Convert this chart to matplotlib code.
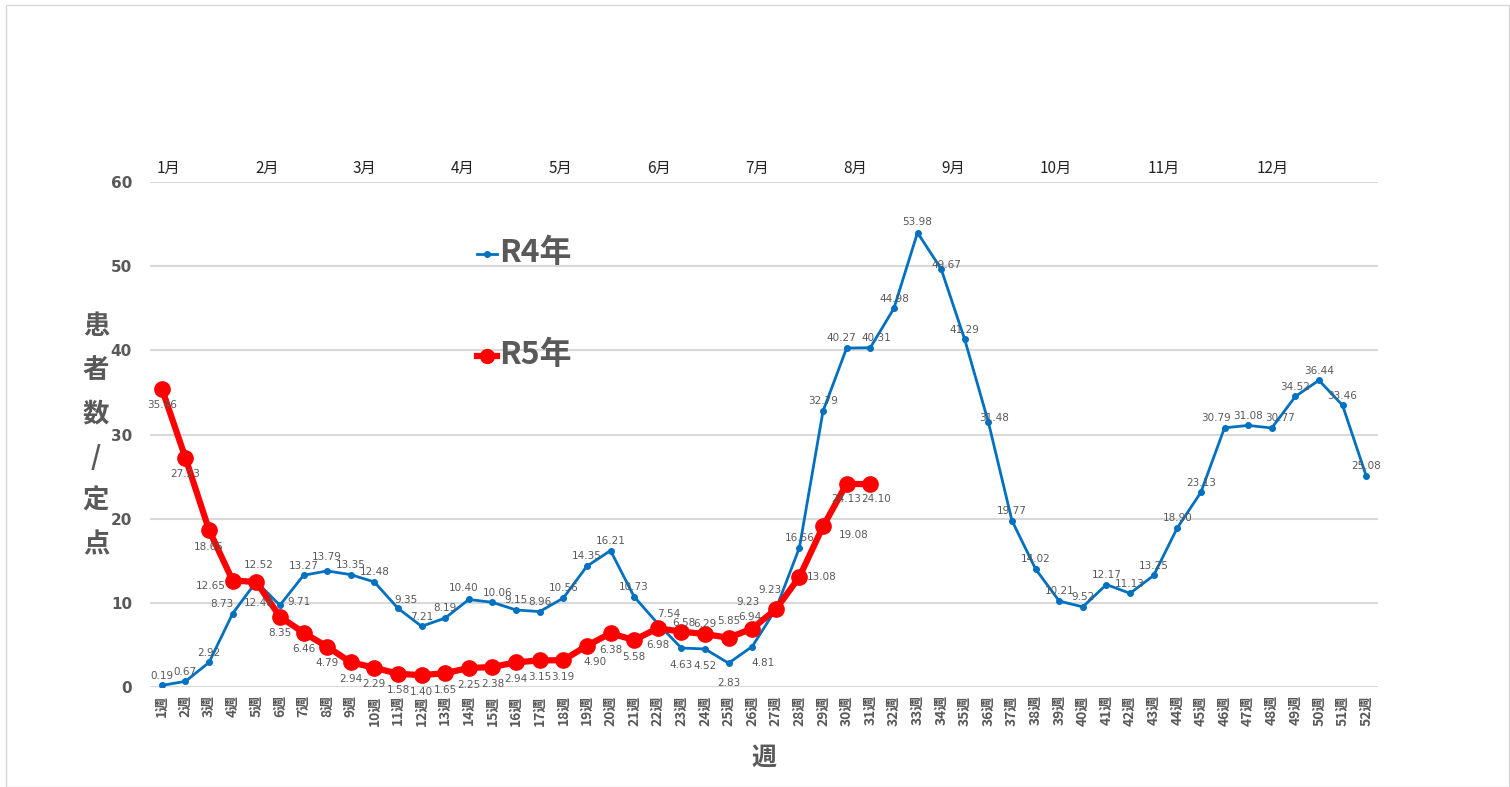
import matplotlib
matplotlib.use("Agg")
import matplotlib.pyplot as plt
from matplotlib.patches import Rectangle

plt.rcParams['font.family'] = ['Noto Sans CJK JP', 'DejaVu Sans']

# ---------------- data ----------------
weeks = list(range(1, 53))
week_labels = [f"{w}週" for w in weeks]

r4 = [0.19, 0.67, 2.92, 8.73, 12.52, 9.71, 13.27, 13.79, 13.35, 12.48,
      9.35, 7.21, 8.19, 10.40, 10.06, 9.15, 8.96, 10.56, 14.35, 16.21,
      10.73, 7.54, 4.63, 4.52, 2.83, 4.81, 9.23, 16.56, 32.79, 40.27,
      40.31, 44.98, 53.98, 49.67, 41.29, 31.48, 19.77, 14.02, 10.21, 9.52,
      12.17, 11.13, 13.25, 18.90, 23.13, 30.79, 31.08, 30.77, 34.52, 36.44,
      33.46, 25.08]

r5 = [35.46, 27.23, 18.65, 12.65, 12.48, 8.35, 6.46, 4.79, 2.94, 2.29,
      1.58, 1.40, 1.65, 2.25, 2.38, 2.94, 3.15, 3.19, 4.90, 6.38,
      5.58, 6.98, 6.58, 6.29, 5.85, 6.94, 9.23, 13.08, 19.08, 24.13,
      24.10]

months = ["1月", "2月", "3月", "4月", "5月", "6月",
          "7月", "8月", "9月", "10月", "11月", "12月"]

# ---------------- style ----------------
BLUE = "#0070C0"
RED = "#FF0000"
GRAY = "#595959"
GRID = "#D9D9D9"

# label offsets in points (default: r4 above, r5 below)
r4_off = {4: (-8, 7), 5: (2, 12), 6: (14, 2), 8: (0, 10), 11: (6, 6),
          14: (-4, 8), 15: (4, 7), 22: (8, 7),
          23: (0, -12), 24: (0, -12), 25: (0, -14), 26: (8, -12),
          27: (-4, 14), 30: (-4, 7), 31: (4, 7), 33: (0, 8), 34: (4, 3),
          36: (4, 3), 46: (-6, 7), 48: (6, 7)}
r5_off = {4: (-16, -4), 5: (2, -15), 19: (6, -12), 23: (2, 6), 24: (0, 7),
          25: (0, 12), 26: (-2, 8), 27: (-20, 5), 28: (16, 0), 29: (22, -6),
          30: (0, -11), 31: (4, -11)}

fig = plt.figure(figsize=(15.1, 7.87), dpi=100)
W, H = 1510, 787

# light border around the chart
fig.patches.append(Rectangle((6 / W, 0), 1503 / W, 1 - 5 / H,
                             transform=fig.transFigure, fill=False,
                             edgecolor="#D9D9D9", linewidth=1))

ax = fig.add_axes([150 / W, 1 - 687 / H, 1228 / W, 505 / H])
ax.set_xlim(0.5, 52.5)
ax.set_ylim(0, 60)
ax.set_yticks(range(0, 61, 10))
ax.grid(axis="y", color=GRID, linewidth=1.5)
ax.set_axisbelow(True)
for s in ax.spines.values():
    s.set_visible(False)

ax.plot(weeks, r4, color=BLUE, linewidth=2, marker="o", markersize=4, zorder=3)
ax.plot(weeks[:len(r5)], r5, color=RED, linewidth=4.5, marker="o",
        markersize=11, zorder=4)

for i, v in enumerate(r4):
    dx, dy = r4_off.get(i + 1, (0, 7))
    ax.annotate(f"{v:.2f}", (weeks[i], v), xytext=(dx, dy),
                textcoords="offset points", ha="center", va="center",
                fontsize=7.5, color=GRAY, family="DejaVu Sans", zorder=5)

for i, v in enumerate(r5):
    dx, dy = r5_off.get(i + 1, (0, -12))
    ax.annotate(f"{v:.2f}", (weeks[i], v), xytext=(dx, dy),
                textcoords="offset points", ha="center", va="center",
                fontsize=7.5, color=GRAY, family="DejaVu Sans", zorder=5)

ax.set_xticks(weeks)
ax.set_xticklabels(week_labels, rotation=90, fontsize=10,
                   fontweight="bold", color=GRAY)
ax.tick_params(axis="both", length=0)
ax.tick_params(axis="x", pad=6)
for t in ax.get_yticklabels():
    t.set_fontsize(11)
    t.set_fontweight("bold")
    t.set_color(GRAY)
    t.set_family("DejaVu Sans")
ax.tick_params(axis="y", pad=13)

# month labels above the plot
month_x = [157, 255, 353, 451, 549, 647, 745, 843, 941, 1040, 1148, 1257]
for m, px in zip(months, month_x):
    fig.text(px / W, 1 - 168 / H, m, fontsize=11, color="#222222",
             ha="left", va="center")

# y label, stacked characters
for k, ch in enumerate("患者数/定点"):
    fig.text(96 / W, 1 - (327 + k * 43.5) / H, ch, fontsize=19,
             fontweight="bold", color=GRAY, ha="center", va="center")

fig.text(764 / W, 1 - 758 / H, "週", fontsize=18, fontweight="bold",
         color=GRAY, ha="center", va="center")

# legend
fig.lines.append(plt.Line2D([477 / W, 497 / W], [1 - 254 / H] * 2,
                            transform=fig.transFigure, color=BLUE,
                            linewidth=2))
fig.lines.append(plt.Line2D([487 / W], [1 - 254 / H],
                            transform=fig.transFigure, color=BLUE,
                            marker="o", markersize=4))
fig.text(499 / W, 1 - 253 / H, "R4年", fontsize=23, fontweight="bold",
         color=GRAY, ha="left", va="center")
fig.lines.append(plt.Line2D([477 / W, 497 / W], [1 - 356 / H] * 2,
                            transform=fig.transFigure, color=RED,
                            linewidth=4.5))
fig.lines.append(plt.Line2D([487 / W], [1 - 356 / H],
                            transform=fig.transFigure, color=RED,
                            marker="o", markersize=10))
fig.text(499 / W, 1 - 355 / H, "R5年", fontsize=23, fontweight="bold",
         color=GRAY, ha="left", va="center")

fig.savefig("out.png", dpi=100)
